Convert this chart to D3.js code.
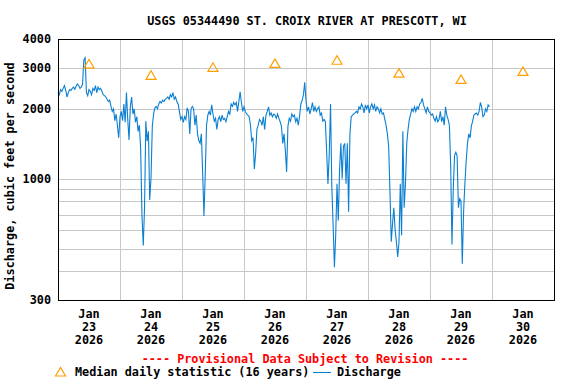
<!DOCTYPE html>
<html><head><meta charset="utf-8">
<script src="https://cdn.jsdelivr.net/npm/d3@7"></script>
<style>
body{margin:0;background:#fff}
svg{display:block}
text{font-family:"DejaVu Sans Mono",monospace;font-weight:bold;font-size:11.8px;fill:#000}
</style>
</head><body>
<svg id="chart" width="576" height="384"></svg>
<script>
const titleText = "USGS 05344490 ST. CROIX RIVER AT PRESCOTT, WI";
const yAxisLabel = "Discharge, cubic feet per second";
const provisionalNote = "---- Provisional Data Subject to Revision ----";
const legendMedian = "Median daily statistic (16 years)";
const legendDischarge = "Discharge";
const monthLabel = "Jan";
const yearLabel = "2026";
const dayLabels = ["23","24","25","26","27","28","29","30"];
const yTickLabels = [300, 1000, 2000, 3000, 4000];
const yGridValues = [400, 500, 600, 700, 800, 900, 1000, 2000, 3000];
const medianValues = [3120, 2790, 3020, 3140, 3240, 2850, 2680, 2900];

// 30-minute discharge readings (cfs), starting at 00:00 each day
const dischargeJan23 = [2350,2300,2420,2380,2450,2520,2400,2250,2350,2420,2400,2450,2480,2430,2500,2560,2520,2450,2480,2550,3250,3320,2350,2280,2420,2380,2300,2450,2400,2520,2350,2480,2420,2450,2380,2300,2280,2250,2200,2150,2180,2050,1950,2000,1780,1900,1700,1500];
const dischargeJan24 = [1850,1950,1780,2100,1750,2350,1800,1470,2050,2250,1900,2000,1750,1850,1600,1700,1350,700,515,750,1770,1450,1600,810,1000,1680,1900,2020,2050,2000,2100,2150,2120,2180,2150,2200,2220,2250,2200,2300,2250,2350,2200,2250,2150,2100,1950,1800];
const dischargeJan25 = [1850,1750,1850,1800,2020,1950,1560,2000,2050,2000,1700,1880,1560,1460,1420,1560,1060,690,1050,1700,1880,1950,1880,2080,1900,1770,1820,1630,1800,1850,1760,1880,1800,1820,1760,1850,1950,1900,2100,2050,2130,2080,2130,1950,2150,2370,2130,1950];
const dischargeJan26 = [2040,1950,1900,1880,1850,1700,1460,1500,1100,1280,1630,1700,1800,1770,1700,1850,1630,1880,1950,2040,1880,1920,1850,1900,1880,1820,1900,1820,1760,1680,1420,1560,1330,1070,1680,1820,1770,1900,1850,1880,1760,1820,1700,1850,2100,2170,2300,2600];
const dischargeJan27 = [2180,1950,2040,1900,2000,2130,1950,2040,1950,2000,2040,1880,1920,1770,1800,1760,1300,950,1280,2100,920,630,415,570,950,660,1100,1420,1000,1380,1420,950,1420,720,1560,1850,1880,1900,1920,1950,1920,2040,2000,2100,2040,1920,2080,2000];
const dischargeJan28 = [2080,1920,2040,2100,2000,2080,1950,2040,2000,1920,2000,1900,1920,1800,1700,1560,1380,880,535,640,750,600,535,460,535,950,570,1600,750,950,1420,1630,1800,1900,2000,1950,2040,1950,2040,2000,2100,2130,2220,2080,2000,1920,2040,1950];
const dischargeJan29 = [1920,1880,1900,1820,1770,1850,1760,1800,1950,1760,1850,1700,2040,1880,1800,1700,1150,520,900,1260,1300,1250,750,820,800,430,720,950,1190,1420,1560,1500,1680,1770,1880,1900,1920,1880,1950,2130,2040,1850,1880,2000,1950,2080,2040];

const svg = d3.select("#chart");
const W = 576, H = 384;
svg.append("rect").attr("width", W).attr("height", H).attr("fill", "#fff");

const start = new Date(Date.UTC(2026, 0, 23));
const end = new Date(Date.UTC(2026, 0, 31));
const x = d3.scaleUtc().domain([start, end]).range([58, 554]);
const y = d3.scaleLog().domain([300, 4000]).range([300, 39]);

const allDischarge = [].concat(dischargeJan23, dischargeJan24, dischargeJan25, dischargeJan26, dischargeJan27, dischargeJan28, dischargeJan29);
const series = allDischarge.map((v, i) => ({t: d3.utcMinute.offset(start, i * 30), v}));

const crisp = v => Math.round(v) + 0.5;

// grid
const grid = svg.append("g").attr("stroke", "#c8c8c8").attr("stroke-width", 1);
grid.selectAll("line.h").data(yGridValues).join("line")
  .attr("x1", 58).attr("x2", 554)
  .attr("y1", d => crisp(y(d))).attr("y2", d => crisp(y(d)));
const dayBounds = d3.utcDay.range(d3.utcDay.offset(start, 1), end);
grid.selectAll("line.v").data(dayBounds).join("line")
  .attr("x1", d => crisp(x(d))).attr("x2", d => crisp(x(d)))
  .attr("y1", 39).attr("y2", 300);

// discharge line
const line = d3.line().x(d => x(d.t)).y(d => y(d.v));
svg.append("path").datum(series)
  .attr("fill", "none").attr("stroke", "#0b7fd1").attr("stroke-width", 1.1)
  .attr("d", line);

// median triangles
const tri = (cx, cy) => { const p = d3.path(); p.moveTo(cx - 5, cy + 4); p.lineTo(cx, cy - 4.5); p.lineTo(cx + 5, cy + 4); p.closePath(); return p.toString(); };
const days = d3.utcDay.range(start, end);
svg.append("g").selectAll("path").data(medianValues).join("path")
  .attr("d", (d, i) => tri(x(d3.utcHour.offset(days[i], 12)), y(d)))
  .attr("fill", "none").attr("stroke", "#ffa000").attr("stroke-width", 1.2);

// frame
svg.append("rect").attr("x", 58.5).attr("y", 39.5).attr("width", 496).attr("height", 261)
  .attr("fill", "none").attr("stroke", "#000").attr("stroke-width", 1);

// y tick labels
svg.append("g").selectAll("text").data(yTickLabels).join("text")
  .attr("x", 51).attr("y", d => y(d)).attr("dy", "0.36em")
  .attr("text-anchor", "end").text(d => d);

// x tick labels
const xl = svg.append("g").selectAll("text").data(days).join("text")
  .attr("text-anchor", "middle");
xl.each(function(d, i) {
  const cx = x(d3.utcHour.offset(d, 12));
  const t = d3.select(this);
  [monthLabel, dayLabels[i], yearLabel].forEach((s, k) => {
    t.append("tspan").attr("x", cx).attr("y", 318 + k * 13).text(s);
  });
});

// title
svg.append("text").attr("x", 307).attr("y", 25).attr("text-anchor", "middle").text(titleText);

// y axis label
svg.append("text").attr("transform", "translate(14,176) rotate(-90)")
  .attr("text-anchor", "middle").text(yAxisLabel);

// provisional note
svg.append("text").attr("x", 305).attr("y", 363).attr("text-anchor", "middle")
  .style("fill", "#ff0000").text(provisionalNote);

// legend
svg.append("path").attr("d", tri(60.5, 372)).attr("fill", "none").attr("stroke", "#ffa000").attr("stroke-width", 1.2);
svg.append("text").attr("x", 75).attr("y", 376).text(legendMedian);
svg.append("line").attr("x1", 313).attr("x2", 331).attr("y1", 372.5).attr("y2", 372.5)
  .attr("stroke", "#0b7fd1").attr("stroke-width", 1.1);
svg.append("text").attr("x", 337).attr("y", 376).text(legendDischarge);
</script>
</body></html>
